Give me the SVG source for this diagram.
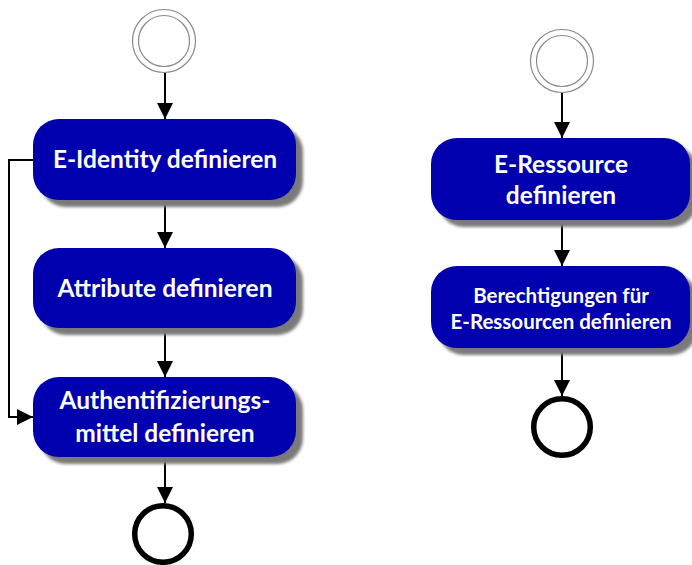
<svg xmlns="http://www.w3.org/2000/svg" width="692" height="565" viewBox="0 0 692 565">
  <style>
    .box { fill: #0000AE; }
    .shadow { fill: #7a7a7a; filter: url(#soft); }
    .lbl { font-family: Lato, "Open Sans", "Liberation Sans", sans-serif; font-weight: bold; fill: #ffffff; text-anchor: middle; }
    .big { font-size: 24.5px; }
    .small { font-size: 20.5px; }
    .start-outer { fill: #ffffff; stroke: #8a8a8a; stroke-width: 1.2; }
    .start-inner { fill: none; stroke: #8a8a8a; stroke-width: 1.2; }
    .end { fill: #ffffff; stroke: #000000; stroke-width: 5.5; }
    .flow { fill: none; stroke: #000000; stroke-width: 2; marker-end: url(#arrow); }
  </style>
  <defs>
    <filter id="soft" x="-10%" y="-10%" width="120%" height="130%">
      <feGaussianBlur stdDeviation="1.5"/>
    </filter>
    <marker id="arrow" viewBox="0 0 16 16" refX="16" refY="8" markerWidth="16" markerHeight="16" markerUnits="userSpaceOnUse" orient="auto">
      <path d="M0,0 L16,8 L0,16 Z" fill="#000000"/>
    </marker>
  </defs>

  <rect width="692" height="565" fill="#ffffff"/>

  <!-- connectors -->
  <g id="connectors">
    <path class="flow" d="M165,72 V119"/>
    <path class="flow" d="M165,200 V248"/>
    <path class="flow" d="M165,328 V377"/>
    <path class="flow" d="M165,457 V503"/>
    <path class="flow" d="M34,160 H9 V417 H33"/>
    <path class="flow" d="M562,92 V138"/>
    <path class="flow" d="M562,220 V266"/>
    <path class="flow" d="M562,348 V396"/>
  </g>

  <!-- left flow -->
  <g id="start1">
    <circle class="start-outer" cx="164" cy="41" r="31.5"/>
    <circle class="start-inner" cx="164" cy="41" r="25.5"/>
  </g>

  <g id="e-identity">
    <rect class="shadow" x="40" y="126" width="263" height="81" rx="26"/>
    <rect class="box" x="33" y="119" width="263" height="81" rx="26"/>
    <text class="lbl big" x="165" y="168">E-Identity definieren</text>
  </g>

  <g id="attribute">
    <rect class="shadow" x="40" y="255" width="263" height="80" rx="26"/>
    <rect class="box" x="33" y="248" width="263" height="80" rx="26"/>
    <text class="lbl big" x="165" y="297">Attribute definieren</text>
  </g>

  <g id="authentifizierung">
    <rect class="shadow" x="40" y="384" width="263" height="80" rx="26"/>
    <rect class="box" x="33" y="377" width="263" height="80" rx="26"/>
    <text class="lbl big" x="165" y="409">Authentifizierungs-</text>
    <text class="lbl big" x="165" y="442">mittel definieren</text>
  </g>

  <g id="end1">
    <circle class="end" cx="163" cy="534" r="28.3"/>
  </g>

  <!-- right flow -->
  <g id="start2">
    <circle class="start-outer" cx="562" cy="61" r="31.5"/>
    <circle class="start-inner" cx="562" cy="61" r="25.5"/>
  </g>

  <g id="e-ressource">
    <rect class="shadow" x="438" y="145" width="259" height="82" rx="26"/>
    <rect class="box" x="431" y="138" width="259" height="82" rx="26"/>
    <text class="lbl big" x="561" y="173">E-Ressource</text>
    <text class="lbl big" x="561" y="204">definieren</text>
  </g>

  <g id="berechtigungen">
    <rect class="shadow" x="438" y="273" width="259" height="82" rx="26"/>
    <rect class="box" x="431" y="266" width="259" height="82" rx="26"/>
    <text class="lbl small" x="561" y="303">Berechtigungen für</text>
    <text class="lbl small" x="561" y="329">E-Ressourcen definieren</text>
  </g>

  <g id="end2">
    <circle class="end" cx="562" cy="427" r="28.3"/>
  </g>
</svg>
